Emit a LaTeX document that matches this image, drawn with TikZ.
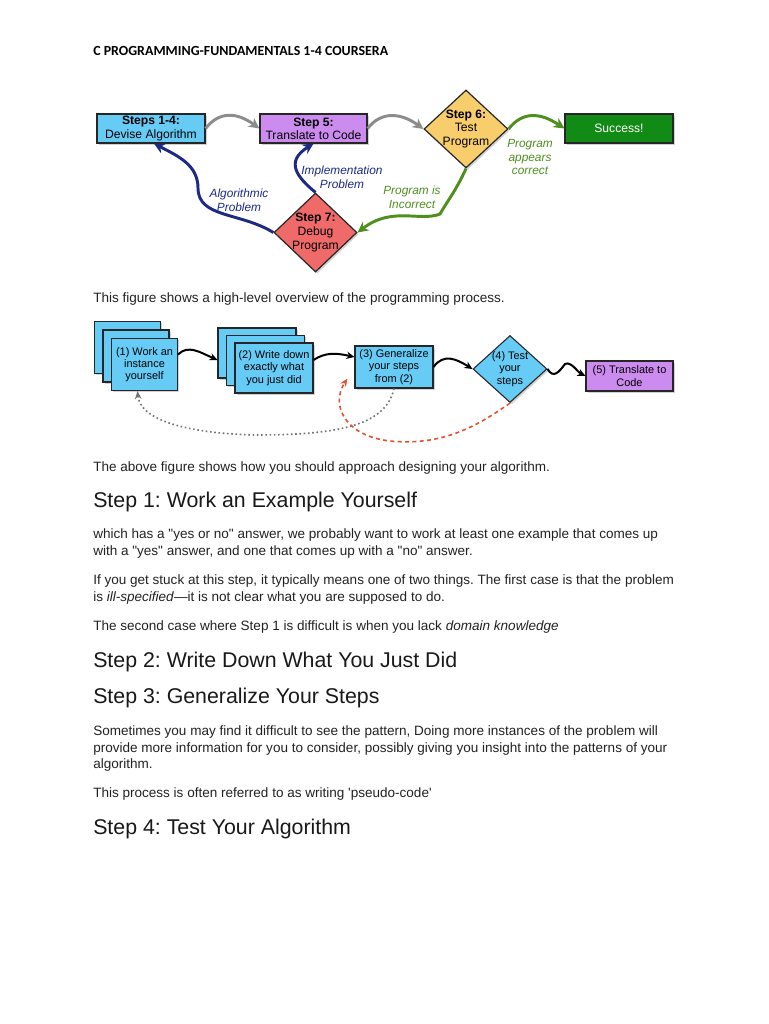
\documentclass[tikz,border=0pt]{standalone}
\usepackage{fontspec}
\setmainfont{Liberation Sans}
\newfontfamily\bodyfont{Liberation Sans}
\newfontfamily\hdrfont{Carlito}
\usetikzlibrary{shapes.geometric,shadows,arrows.meta,calc}
\definecolor{cyanbox}{HTML}{66CCF6}
\definecolor{violetbox}{HTML}{CC8BEE}
\definecolor{yellowbox}{HTML}{F8CD6C}
\definecolor{redbox}{HTML}{F06A6A}
\definecolor{greenbox}{HTML}{118A16}
\definecolor{navy}{HTML}{1C2A86}
\definecolor{leaf}{HTML}{4E8F1E}
\definecolor{dashred}{HTML}{E5502E}
\definecolor{bodytext}{HTML}{222222}
\frenchspacing
\begin{document}
\begin{tikzpicture}[x=0.75pt,y=-0.75pt,
  shade/.style={drop shadow={shadow xshift=1.2pt,shadow yshift=-1.4pt,opacity=0.35}},
  bigbox/.style={draw=black!85,line width=0.9pt,align=center,inner sep=0pt,
    minimum height={29*0.75pt},font=\fontsize{9.1}{10}\selectfont,shade},
  bigdiam/.style={diamond,draw=black!85,line width=0.9pt,inner sep=0pt,shade},
  smallbox/.style={draw=black!85,line width=0.8pt,align=center,inner sep=0pt,
    fill=cyanbox,font=\fontsize{8.2}{9.2}\selectfont,shade},
  graylink/.style={draw=black!45,line width=2.2pt,-{Stealth[length=8pt,width=8pt]}},
  greenlink/.style={draw=leaf,line width=2.2pt,-{Stealth[length=8pt,width=8pt]}},
  bluelink/.style={draw=navy,line width=2.2pt,-{Stealth[length=8pt,width=8pt]}},
  blacklink/.style={draw=black,line width=1.5pt,-{Stealth[length=6pt,width=5.5pt]}},
  lbl/.style={align=center,inner sep=0pt,font=\fontsize{8.9}{10.2}\selectfont\itshape},
  body/.style={anchor=base west,inner sep=0pt,text=bodytext,font=\bodyfont\fontsize{10.15}{12}\selectfont},
  heading/.style={anchor=base west,inner sep=0pt,text=black!90,font=\fontsize{16}{19}\selectfont}
]
\useasboundingbox[fill=white] (0,0) rectangle (768,1024);

% header
\node[anchor=base west,inner sep=0pt,font=\hdrfont\bfseries\fontsize{10.45}{12}\selectfont] (hdr) at (93,56) {C PROGRAMMING-FUNDAMENTALS 1-4 COURSERA};

% ---------- top diagram ----------
\node[bigbox,fill=cyanbox,minimum width={108*0.75pt}] (b1) at (151,128.5) {\textbf{Steps 1-4:}\\Devise Algorithm};
\node[bigbox,fill=violetbox,minimum width={107*0.75pt}] (b2) at (313.5,128.5) {\textbf{Step 5:}\\Translate to Code};
\node[bigbox,fill=greenbox,text=white,minimum width={108*0.75pt}] (succ) at (619,128.5) {Success!};
\node[bigdiam,fill=yellowbox,minimum width={84*0.75pt},minimum height={78*0.75pt},
  label={[align=center,font=\fontsize{9.1}{10.2}\selectfont]center:{\textbf{Step 6:}\\Test\\Program}}] (d6) at (466,129) {};
\node[bigdiam,fill=redbox,minimum width={83*0.75pt},minimum height={79*0.75pt},
  label={[align=center,font=\fontsize{9.1}{10.2}\selectfont]center:{\textbf{Step 7:}\\Debug\\Program}}] (d7) at (315.5,232.5) {};

\draw[graylink] (b1.east) .. controls +(14,-18) and +(-22,-16) .. (b2.west);
\draw[graylink] (b2.east) .. controls +(14,-18) and +(-22,-16) .. (d6.west);
\draw[greenlink] (d6.east) .. controls +(14,-18) and +(-24,-16) .. (succ.west);
\draw[greenlink] (d6.south) .. controls +(-10,22) and +(8,-14) .. (440,214)
   .. controls (420,222) and (392,206) .. (d7.east);
\draw[bluelink] (d7.west) .. controls (240,212) and (198,218) .. (198,188)
   .. controls (198,165) and (178,156) .. ($(b1.south)+(3,0)$);
\draw[bluelink] (d7.north) .. controls (298,178) and (284,162) .. (b2.south);

\node[lbl,text=navy] (lalg) at (239,200) {Algorithmic\\Problem};
\node[lbl,text=navy] (limp) at (342,177) {Implementation\\Problem};
\node[lbl,text=leaf] (linc) at (412,197) {Program is\\Incorrect};
\node[lbl,text=leaf] (lcor) at (530,157) {Program\\appears\\correct};

\node[body] (cap1) at (93,302) {This figure shows a high-level overview of the programming process.};

% ---------- second diagram ----------
\node[smallbox,minimum width={66*0.75pt},minimum height={52*0.75pt}] (s1c) at (127.5,347.5) {};
\node[smallbox,minimum width={66*0.75pt},minimum height={52*0.75pt}] (s1b) at (136,356) {};
\node[smallbox,minimum width={66*0.75pt},minimum height={52*0.75pt}] (s1) at (144.5,364.5) {(1) Work an\\instance\\yourself};

\node[smallbox,minimum width={78*0.75pt},minimum height={50*0.75pt}] (s2c) at (257,353) {};
\node[smallbox,minimum width={78*0.75pt},minimum height={50*0.75pt}] (s2b) at (265.5,360.5) {};
\node[smallbox,minimum width={78*0.75pt},minimum height={50*0.75pt}] (s2) at (274,368) {(2) Write down\\exactly what\\you just did};

\node[smallbox,minimum width={78*0.75pt},minimum height={42*0.75pt}] (s3) at (394,367) {(3) Generalize\\your steps\\from (2)};
\node[diamond,draw=black!85,line width=0.8pt,fill=cyanbox,inner sep=0pt,shade,
  minimum width={74*0.75pt},minimum height={67*0.75pt},
  label={[align=center,font=\fontsize{8.2}{9.2}\selectfont]center:{(4) Test\\your\\steps}}] (s4) at (510,369) {};
\node[smallbox,fill=violetbox,minimum width={87*0.75pt},minimum height={30*0.75pt}] (s5) at (629.5,376) {(5) Translate to\\Code};

\draw[blacklink] (s1.east) ++(0,-10) .. controls +(10,-10) and +(-18,-8) .. ($(s2c.west)+(0,7)$);
\draw[blacklink] ($(s2.east)+(0,-8)$) .. controls +(12,-8) and +(-18,-4) .. ($(s3.west)+(0,-10)$);
\draw[blacklink] (s3.east) .. controls +(10,-14) and +(-16,-10) .. (s4.west);
\draw[blacklink] (s4.east) .. controls +(6,10) and +(-6,8) .. (565,364) .. controls +(6,-3) and +(-8,-4) .. (s5.west);

\draw[draw=black!55,line width=1.2pt,dotted,-{Stealth[length=6pt,width=5pt]}]
  (s3.south) .. controls (386,425) and (340,435) .. (255,435)
  .. controls (180,433) and (140,418) .. ($(s1.south)+(-7,0)$);
\draw[draw=dashred,line width=1.2pt,dashed,dash pattern=on 3pt off 2.5pt,-{Stealth[length=6pt,width=5pt]}]
  (s4.south) .. controls (475,428) and (440,446) .. (390,441)
  .. controls (345,436) and (330,405) .. ($(s3.south west)+(-7,-10)$);

\node[body] (cap2) at (93,471) {The above figure shows how you should approach designing your algorithm.};

% ---------- text ----------
\node[heading] (h1) at (93,507) {Step 1: Work an Example Yourself};
\node[body] (p1a) at (93,538) {which has a "yes or no" answer, we probably want to work at least one example that comes up};
\node[body] (p1b) at (93,555) {with a "yes" answer, and one that comes up with a "no" answer.};
\node[body] (p2a) at (93,584) {If you get stuck at this step, it typically means one of two things. The first case is that the problem};
\node[body] (p2b) at (93,601) {is \textit{ill-specified}—it is not clear what you are supposed to do.};
\node[body] (p3) at (93,630) {The second case where Step 1 is difficult is when you lack \textit{domain knowledge}};
\node[heading] (h2) at (93,667) {Step 2: Write Down What You Just Did};
\node[heading] (h3) at (93,703) {Step 3: Generalize Your Steps};
\node[body] (p4a) at (93,735) {Sometimes you may find it difficult to see the pattern, Doing more instances of the problem will};
\node[body] (p4b) at (93,752) {provide more information for you to consider, possibly giving you insight into the patterns of your};
\node[body] (p4c) at (93,768) {algorithm.};
\node[body] (p5) at (93,797) {This process is often referred to as writing 'pseudo-code'};
\node[heading] (h4) at (93,834) {Step 4: Test Your Algorithm};
\end{tikzpicture}
\end{document}
